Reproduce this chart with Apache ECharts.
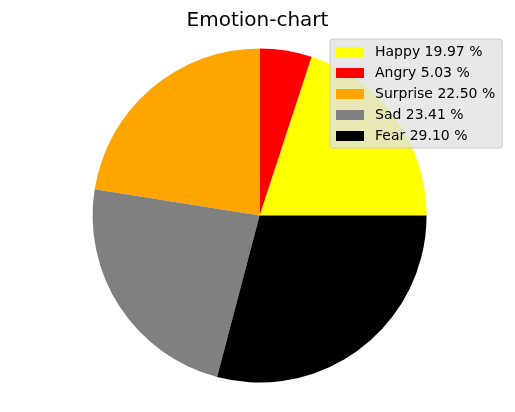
<!DOCTYPE html>
<html>
<head>
<meta charset="utf-8">
<script src="https://cdn.jsdelivr.net/npm/echarts@6/dist/echarts.min.js"></script>
<style>
  html, body { margin: 0; padding: 0; background: #fff; }
  #chart { width: 515px; height: 412px; }
</style>
</head>
<body>
<div id="chart"></div>
<script>
// emotion shares (percent)
var emotions = ['Happy', 'Angry', 'Surprise', 'Sad', 'Fear']
var shares = [19.97, 5.03, 22.50, 23.41, 29.10]
var colors = ['#ffff00', '#ff0000', '#ffa500', '#808080', '#000000']

var chart = echarts.init(document.getElementById('chart'))
var pieData = []
emotions.map(function (name, i) {
  pieData.push({ value: shares[i], name: name, itemStyle: { color: colors[i] } })
})

chart.setOption({
  animation: false,
  backgroundColor: '#fff',
  title: {
    text: 'Emotion-chart',
    left: 'center',
    top: 6,
    textStyle: {
      fontFamily: 'DejaVu Sans',
      fontSize: 20,
      fontWeight: 'normal',
      color: '#000'
    }
  },
  legend: {
    orient: 'vertical',
    left: 330,
    top: 39,
    padding: [6, 7, 5, 6],
    itemWidth: 28,
    itemHeight: 10,
    itemGap: 7,
    icon: 'rect',
    backgroundColor: 'rgba(226,226,226,0.8)',
    borderColor: '#cccccc',
    borderWidth: 1,
    borderRadius: 3,
    selectedMode: false,
    textStyle: {
      fontFamily: 'DejaVu Sans',
      fontSize: 14,
      color: '#000',
      padding: [0, 0, 0, 6]
    },
    formatter: function (name) {
      var i = emotions.indexOf(name)
      return name + ' ' + shares[i].toFixed(2) + ' %'
    },
    data: emotions
  },
  series: [{
    name: 'emotion',
    type: 'pie',
    center: [259.6, 215.5],
    radius: 167,
    startAngle: 0,
    clockwise: false,
    label: { show: false },
    labelLine: { show: false },
    emphasis: { scale: false },
    itemStyle: { borderWidth: 0 },
    data: pieData
  }]
})
</script>
</body>
</html>
